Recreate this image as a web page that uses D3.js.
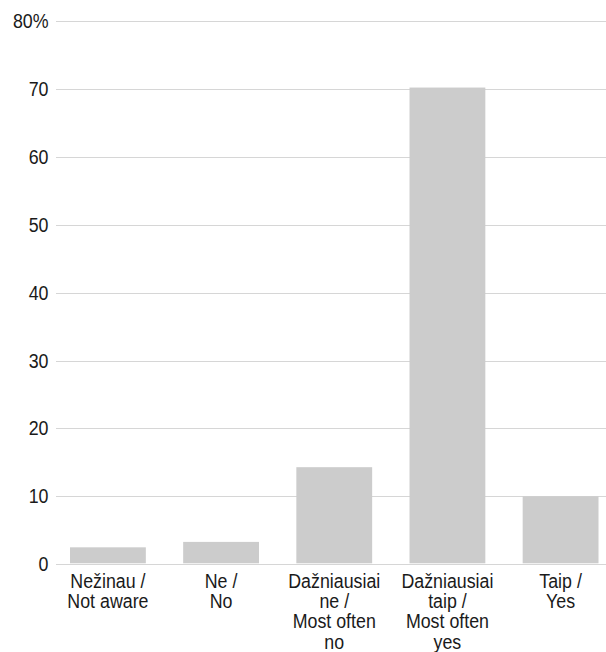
<!DOCTYPE html>
<html><head><meta charset="utf-8">
<script src="https://cdn.jsdelivr.net/npm/d3@7"></script>
<style>body{margin:0;background:#fff}svg{display:block}text{font-family:"Liberation Sans",Arial,sans-serif;fill:#1a1a1a}</style>
</head><body>
<svg id="c" width="606" height="652"></svg>
<script>
const categories = [
  ["Nežinau /", "Not aware"],
  ["Ne /", "No"],
  ["Dažniausiai", "ne /", "Most often", "no"],
  ["Dažniausiai", "taip /", "Most often", "yes"],
  ["Taip /", "Yes"]
];
const values = [2.5, 3.3, 14.3, 70.2, 10.0];
const yTicks = [0, 10, 20, 30, 40, 50, 60, 70, 80];
const yTickLabels = ["0", "10", "20", "30", "40", "50", "60", "70", "80%"];

const SX = 0.89;
const FS = 20;
const svg = d3.select("#c");
const y = d3.scaleLinear().domain([0, 80]).range([564.3, 21]);
const x = d3.scaleBand().domain(d3.range(categories.length)).range([70, 598.5]).paddingInner(0.33).paddingOuter(0);

svg.append("g").selectAll("line").data(yTicks).join("line")
  .attr("x1", 56).attr("x2", 606)
  .attr("y1", d => Math.round(y(d)) + 0.5).attr("y2", d => Math.round(y(d)) + 0.5)
  .attr("stroke", "#d6d6d6").attr("stroke-width", 1.2);

svg.append("g").selectAll("text").data(yTicks).join("text")
  .attr("transform", d => `translate(48.5,${y(d)}) scale(${SX},1)`)
  .attr("dy", "0.35em")
  .attr("text-anchor", "end").attr("font-size", FS)
  .text((d, i) => yTickLabels[i]);

svg.append("g").selectAll("rect").data(values).join("rect")
  .attr("x", (d, i) => x(i)).attr("width", x.bandwidth())
  .attr("y", d => y(d)).attr("height", d => y(0) - y(d) - 1)
  .attr("fill", "#cccccc");

const lab = svg.append("g").selectAll("text").data(categories).join("text")
  .attr("transform", (d, i) => `translate(${x(i) + x.bandwidth() / 2},587.5) scale(${SX},1)`)
  .attr("text-anchor", "middle").attr("font-size", FS);
lab.selectAll("tspan").data(d => d).join("tspan")
  .attr("x", 0)
  .attr("dy", (d, i) => i === 0 ? 0 : 20.5)
  .text(d => d);
</script>
</body></html>
